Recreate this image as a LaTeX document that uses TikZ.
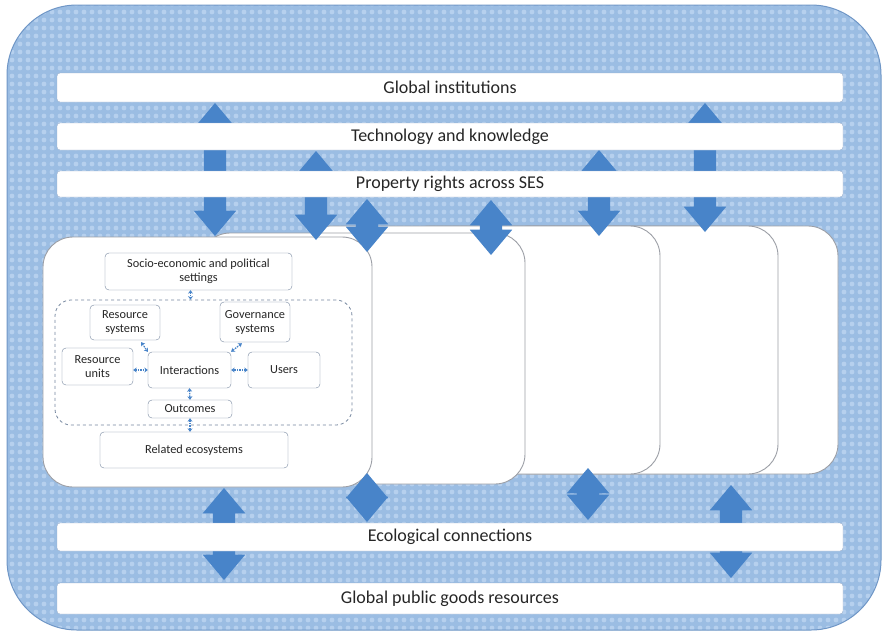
\documentclass[tikz,border=0pt]{standalone}
\usepackage{fontspec}
\setmainfont{Carlito}
\usetikzlibrary{shapes.arrows,arrows.meta,patterns,calc}
\definecolor{bgblue}{HTML}{9BBDE3}
\definecolor{dotblue}{HTML}{B6D0EE}
\definecolor{arrowblue}{HTML}{4884C9}
\definecolor{outline}{HTML}{6F96C6}
\definecolor{barline}{HTML}{9AAFCB}
\definecolor{cardline}{HTML}{9C9FA6}
\definecolor{boxline}{HTML}{76879F}
\pgfdeclarepatternformonly{softdots}{\pgfqpoint{-1pt}{-1pt}}{\pgfqpoint{9pt}{9pt}}{\pgfqpoint{8pt}{8pt}}{\pgfpathcircle{\pgfqpoint{4pt}{4pt}}{2.4pt}\pgfusepath{fill}}
\tikzset{
  bar/.style={draw=barline, fill=white, rounded corners=3pt, minimum width=786pt, inner sep=0pt, font=\fontsize{18}{20}\selectfont, text=black!85},
  card/.style={draw=cardline, line width=0.9pt, fill=white, rounded corners=30pt, inner sep=0pt},
  blockarrow/.style={double arrow, fill=arrowblue, draw=none, rotate=90, inner xsep=0pt, inner ysep=11pt, minimum width=42pt, double arrow head extend=10pt, double arrow tip angle=80},
  ibox/.style={draw=boxline, fill=white, rounded corners=4pt, inner sep=0pt, align=center, font=\fontsize{12.3}{14}\selectfont, text=black!85},
  corebox/.style={draw=boxline, line width=0.8pt, dashed, rounded corners=16pt, inner sep=0pt},
  smallarr/.style={arrowblue, line width=1.3pt, dash pattern=on 1.5pt off 1pt, {Stealth[length=3.5pt,width=5pt]}-{Stealth[length=3.5pt,width=5pt]}},
}
\begin{document}
\begin{tikzpicture}[x=1pt,y=-1pt]
\useasboundingbox (0,0) rectangle (884,632);
% background frame
\path[fill=bgblue, rounded corners=70pt] (7,5) rectangle (881,630);
\path[pattern=softdots, pattern color=dotblue, rounded corners=70pt] (7,5) rectangle (881,630);
\path[draw=outline, line width=1pt, rounded corners=70pt] (7,5) rectangle (881,630);

% stacked cards (back to front)
\node[card, minimum width=338pt, minimum height=248pt] (c5) at (669,350) {};
\node[card, minimum width=378pt, minimum height=248pt] (c4) at (589,350) {};
\node[card, minimum width=360pt, minimum height=248pt] (c3) at (480,350) {};
\node[card, minimum width=325pt, minimum height=251pt] (c2) at (362.5,358.5) {};
\node[card, minimum width=329pt, minimum height=250pt] (c1) at (207.5,362) {};

% inner SES framework
\node[corebox, minimum width=297pt, minimum height=125pt] (core) at (203.5,362.5) {};
\node[ibox, minimum width=187pt, minimum height=37pt] (socio) at (198.5,271.5) {Socio-economic and political\\settings};
\node[ibox, minimum width=70pt, minimum height=35pt] (rs) at (125,322.5) {Resource\\systems};
\node[ibox, minimum width=70pt, minimum height=40pt] (gov) at (255,322) {Governance\\systems};
\node[ibox, minimum width=71pt, minimum height=37pt] (ru) at (97.5,366.5) {Resource\\units};
\node[ibox, minimum width=83pt, minimum height=36pt] (int) at (189.5,370) {Interactions};
\node[ibox, minimum width=72pt, minimum height=36pt] (users) at (284,370) {Users};
\node[ibox, minimum width=84pt, minimum height=18pt] (out) at (190,409) {Outcomes};
\node[ibox, minimum width=188pt, minimum height=36pt] (rel) at (194,450) {Related ecosystems};

\draw[smallarr] ([xshift=-8pt]socio.south) -- ([xshift=-8pt]socio.south |- core.north);
\draw[smallarr] ($(rs.south east)+(-19,2)$) -- (int.north west);
\draw[smallarr] ($(gov.south west)+(22,1)$) -- (int.north east);
\draw[smallarr] (int.west -| ru.east) -- (int.west);
\draw[smallarr] (users.west) -- (int.east);
\draw[smallarr] (int.south) -- (out.north);
\draw[smallarr] (out.south) -- (out.south |- rel.north);

% block arrows
\node[blockarrow, minimum height=133pt] (a1) at (215,169.5) {};
\node[blockarrow, minimum height=89pt] (a2) at (316,195.5) {};
\node[blockarrow, minimum height=53pt] (a3) at (367,225.5) {};
\node[blockarrow, minimum height=55pt] (a4) at (491,227.5) {};
\node[blockarrow, minimum height=86pt] (a5) at (599,193) {};
\node[blockarrow, minimum height=129pt] (a6) at (705,167.5) {};
\node[blockarrow, minimum height=92pt] (b1) at (224,534) {};
\node[blockarrow, minimum height=49pt] (b2) at (367,497.5) {};
\node[blockarrow, minimum height=52pt] (b3) at (588,494) {};
\node[blockarrow, minimum height=93pt] (b4) at (731,531.5) {};

% bars
\node[bar, minimum height=29pt] (gi) at (450,87.5) {Global institutions};
\node[bar, minimum height=27pt] (tk) at (450,136.5) {Technology and knowledge};
\node[bar, minimum height=26pt] (pr) at (450,184) {Property rights across SES};
\node[bar, minimum height=28pt] (ec) at (450,537) {Ecological connections};
\node[bar, minimum height=31pt] (gp) at (450,598.5) {Global public goods resources};
\end{tikzpicture}
\end{document}
